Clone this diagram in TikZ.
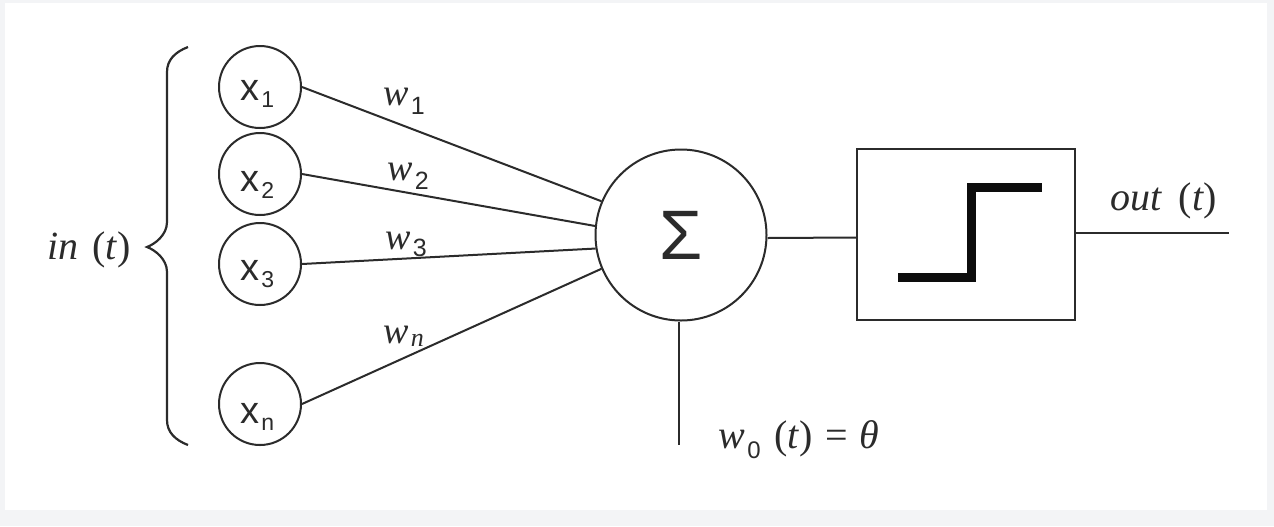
\documentclass[tikz,border=0pt]{standalone}
\usepackage{fontspec}
\setmainfont{Liberation Serif}
\setsansfont{Liberation Sans}
\newcommand{\sbs}[3]{\kern1pt\raisebox{-#2}{\fontsize{#1}{#1}\selectfont #3}}
\newcommand{\pt}[1]{\textup{(}#1\textup{)}}
\definecolor{ink}{HTML}{2B2B2B}
\definecolor{frame}{HTML}{F3F4F6}
\begin{document}
\begin{tikzpicture}[x=0.5pt,y=-0.5pt,
  conn/.style={draw=ink, line width=1pt},
  neuron/.style={circle, draw=ink, line width=1pt, minimum size=41pt, inner sep=0pt},
  sumnode/.style={circle, draw=ink, line width=1pt, minimum size=85.5pt, inner sep=0pt,
                  font=\fontsize{35}{40}\selectfont\sffamily, text=ink},
  stepbox/.style={rectangle, draw=ink, line width=1.2pt, minimum width=108.8pt,
                  minimum height=85.3pt, inner sep=0pt},
  stepline/.style={draw=black!95, line width=4.5pt, line join=miter},
  itlab/.style={font=\fontsize{20}{24}\selectfont\itshape, inner sep=0pt, anchor=base, text=ink},
  xlab/.style={font=\fontsize{19}{22}\selectfont\sffamily, inner sep=0pt, anchor=base west, text=ink},
  wlab/.style={font=\fontsize{19}{22}\selectfont\itshape, inner sep=0pt, anchor=base west, text=ink}]
% background and frame
\fill[frame] (0,0) rectangle (1274,526);
\fill[white] (5,3) rectangle (1267,510);
\useasboundingbox (0,0) rectangle (1274,526);

% input neurons
\node[neuron] (x1) at (260,87) {};
\node[neuron] (x2) at (260,174) {};
\node[neuron] (x3) at (260,264) {};
\node[neuron] (xn) at (260,404) {};
\node[xlab] (lx1) at (240,100) {x\sbs{11.5}{3.5pt}{1}};
\node[xlab] (lx2) at (240,191) {x\sbs{11.5}{3.5pt}{2}};
\node[xlab] (lx3) at (240,280) {x\sbs{11.5}{3.5pt}{3}};
\node[xlab] (lxn) at (240,423) {x\sbs{11.5}{3.5pt}{n}};

% summation node
\node[sumnode] (sig) at (681,235) {Σ};

% step box
\node[stepbox] (box) at (966,234.5) {};
\draw[stepline] (898,277) -- (971,277) -- (971,187) -- (1042,187);

% weighted connections
\draw[conn] (x1.east) -- (sig.157.4);
\draw[conn] (x2.east) -- (sig.174.9);
\draw[conn] (x3.east) -- (sig.189);
\draw[conn] (xn.east) -- (sig.203.6);
\node[wlab] (w1) at (383,105) {w\sbs{12.5}{4.5pt}{\sffamily\upshape 1}};
\node[wlab] (w2) at (387,180) {w\sbs{12.5}{4.5pt}{\sffamily\upshape 2}};
\node[wlab] (w3) at (385,249) {w\sbs{12.5}{3.5pt}{\sffamily\upshape 3}};
\node[wlab] (wn) at (383,343) {w\sbs{13}{1.5pt}{n}};

% sum to step, step to output
\draw[conn] ([yshift=-1.5pt]sig.east) -- ([yshift=-1.5pt]box.west);
\coordinate (outend) at (1229,233);
\draw[conn] (box.east |- outend) -- (outend);
\node[itlab] (outl) at (1164,210) {out\hspace{0.4em}\pt{t}};

% threshold
\coordinate (thend) at (679,445);
\draw[conn] (sig.south -| thend) -- (thend);
\node[itlab] (thl) at (799,448) {w\sbs{12}{5pt}{\sffamily\upshape 0}\hspace{0.35em}\pt{t}\hspace{0.3em}\textup{=}\hspace{0.3em}θ};

% input brace
\draw[conn, line width=1.1pt] (188,47) .. controls (175,52) and (167,60) .. (167,72)
  -- (167,222) .. controls (167,235) and (155,244) .. (147,247)
  .. controls (155,250) and (167,259) .. (167,272)
  -- (167,420) .. controls (167,432) and (175,440) .. (188,445);
\node[itlab] (inl) at (89,259) {in\hspace{0.35em}\pt{t}};
\end{tikzpicture}
\end{document}
